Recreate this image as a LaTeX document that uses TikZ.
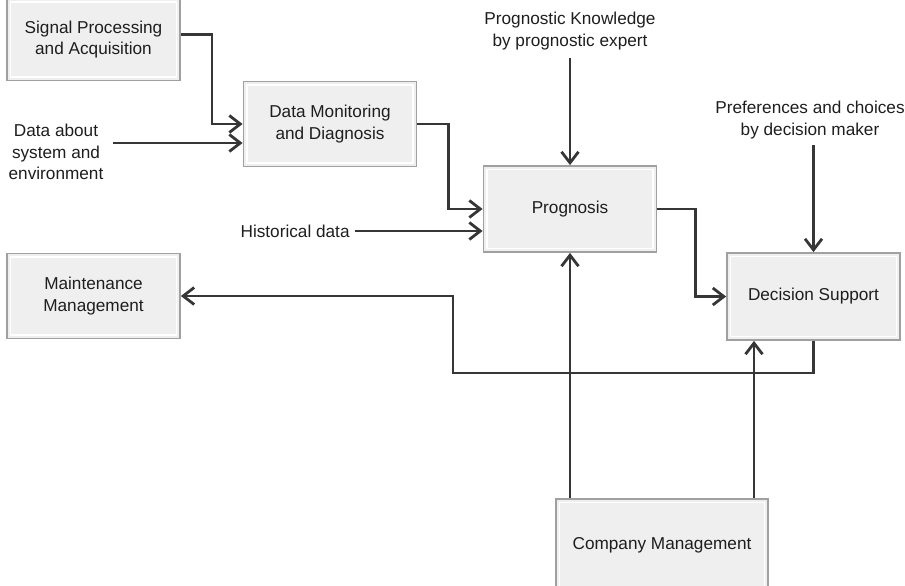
\documentclass[tikz,border=0pt]{standalone}
\usepackage{fontspec}
\setmainfont{Liberation Sans}
\usetikzlibrary{arrows.meta,positioning,calc}
\definecolor{boxfill}{HTML}{EFEFEF}
\definecolor{boxline}{HTML}{A0A0A0}
\definecolor{arrowgray}{HTML}{363636}
\definecolor{txtgray}{HTML}{1E1E1E}
\tikzset{
	blk/.style={draw=boxline,fill=boxfill,line width=0.9pt,align=center,
		minimum width=86.5pt,minimum height=42.5pt,inner sep=0pt,
		path picture={\draw[white,line width=0.8pt]
			([shift={(1.7pt,-1.7pt)}]path picture bounding box.north west) rectangle
			([shift={(-1.7pt,1.7pt)}]path picture bounding box.south east);}},
	flw/.style={draw=arrowgray,line width=1.4pt,-{Straight Barb[length=5.5pt,width=8.5pt]}},
	lbl/.style={align=center,inner sep=0pt},
	every node/.style={text=txtgray,font=\fontsize{8.6}{10.6}\selectfont}
}

\begin{document}
\begin{tikzpicture}[x=0.5pt,y=-0.5pt]
		\useasboundingbox (0,0) rectangle (905,585);
		\node[blk,minimum height=41pt] (sig) at (93.5,39.5) {Signal Processing\\and Acquisition};
		\node[blk] (mon) at (330,124) {Data Monitoring\\and Diagnosis};
		\node[blk,minimum height=43pt] (prog) at (570,209) {Prognosis};
		\node[blk,minimum height=43.5pt] (dec) at (813.5,296.5) {Decision Support};
		\node[blk] (mnt) at (93.5,296) {Maintenance\\Management};
		\node[blk,minimum width=106pt,minimum height=46pt] (comp) at (662,545) {Company Management};
		%
		\node[lbl] (env) at (56,152) {Data about\\system and\\environment};
		\node[lbl,anchor=east] (hist) at (350,231) {Historical data};
		\node[lbl] (know) at (570,31) {Prognostic Knowledge\\by prognostic expert};
		\node[lbl] (pref) at (810,120) {Preferences and choices\\by decision maker};
		%
		\coordinate (env-out) at ($(env.east)+(9,-9)$);
		\coordinate (back) at (453,373);
		\coordinate (cm-r) at ([xshift=46pt]comp.north);
		%
		\draw[flw] ([yshift=2.5pt]sig.east) -- ++(31,0) |- (mon.west);
		\draw[flw] (env-out) -- (env-out -| mon.west);
		\draw[flw] (mon.east) -- ++(31,0) |- (prog.west);
		\draw[flw] ([xshift=2.5pt]hist.east) -- (hist.east -| prog.west);
		\draw[flw] ([yshift=-4pt]know.south) -- (prog.north);
		\draw[flw] ([yshift=-3pt]pref.south -| dec.north) -- (dec.north);
		\draw[flw] (prog.east) -- ++(38,0) |- (dec.west);
		\draw[flw] (dec.south) |- (back) |- (mnt.east);
		\draw[flw] (prog.south |- comp.north) -- (prog.south);
		\draw[flw] (cm-r) -- (cm-r |- dec.south);
\end{tikzpicture}
\end{document}
